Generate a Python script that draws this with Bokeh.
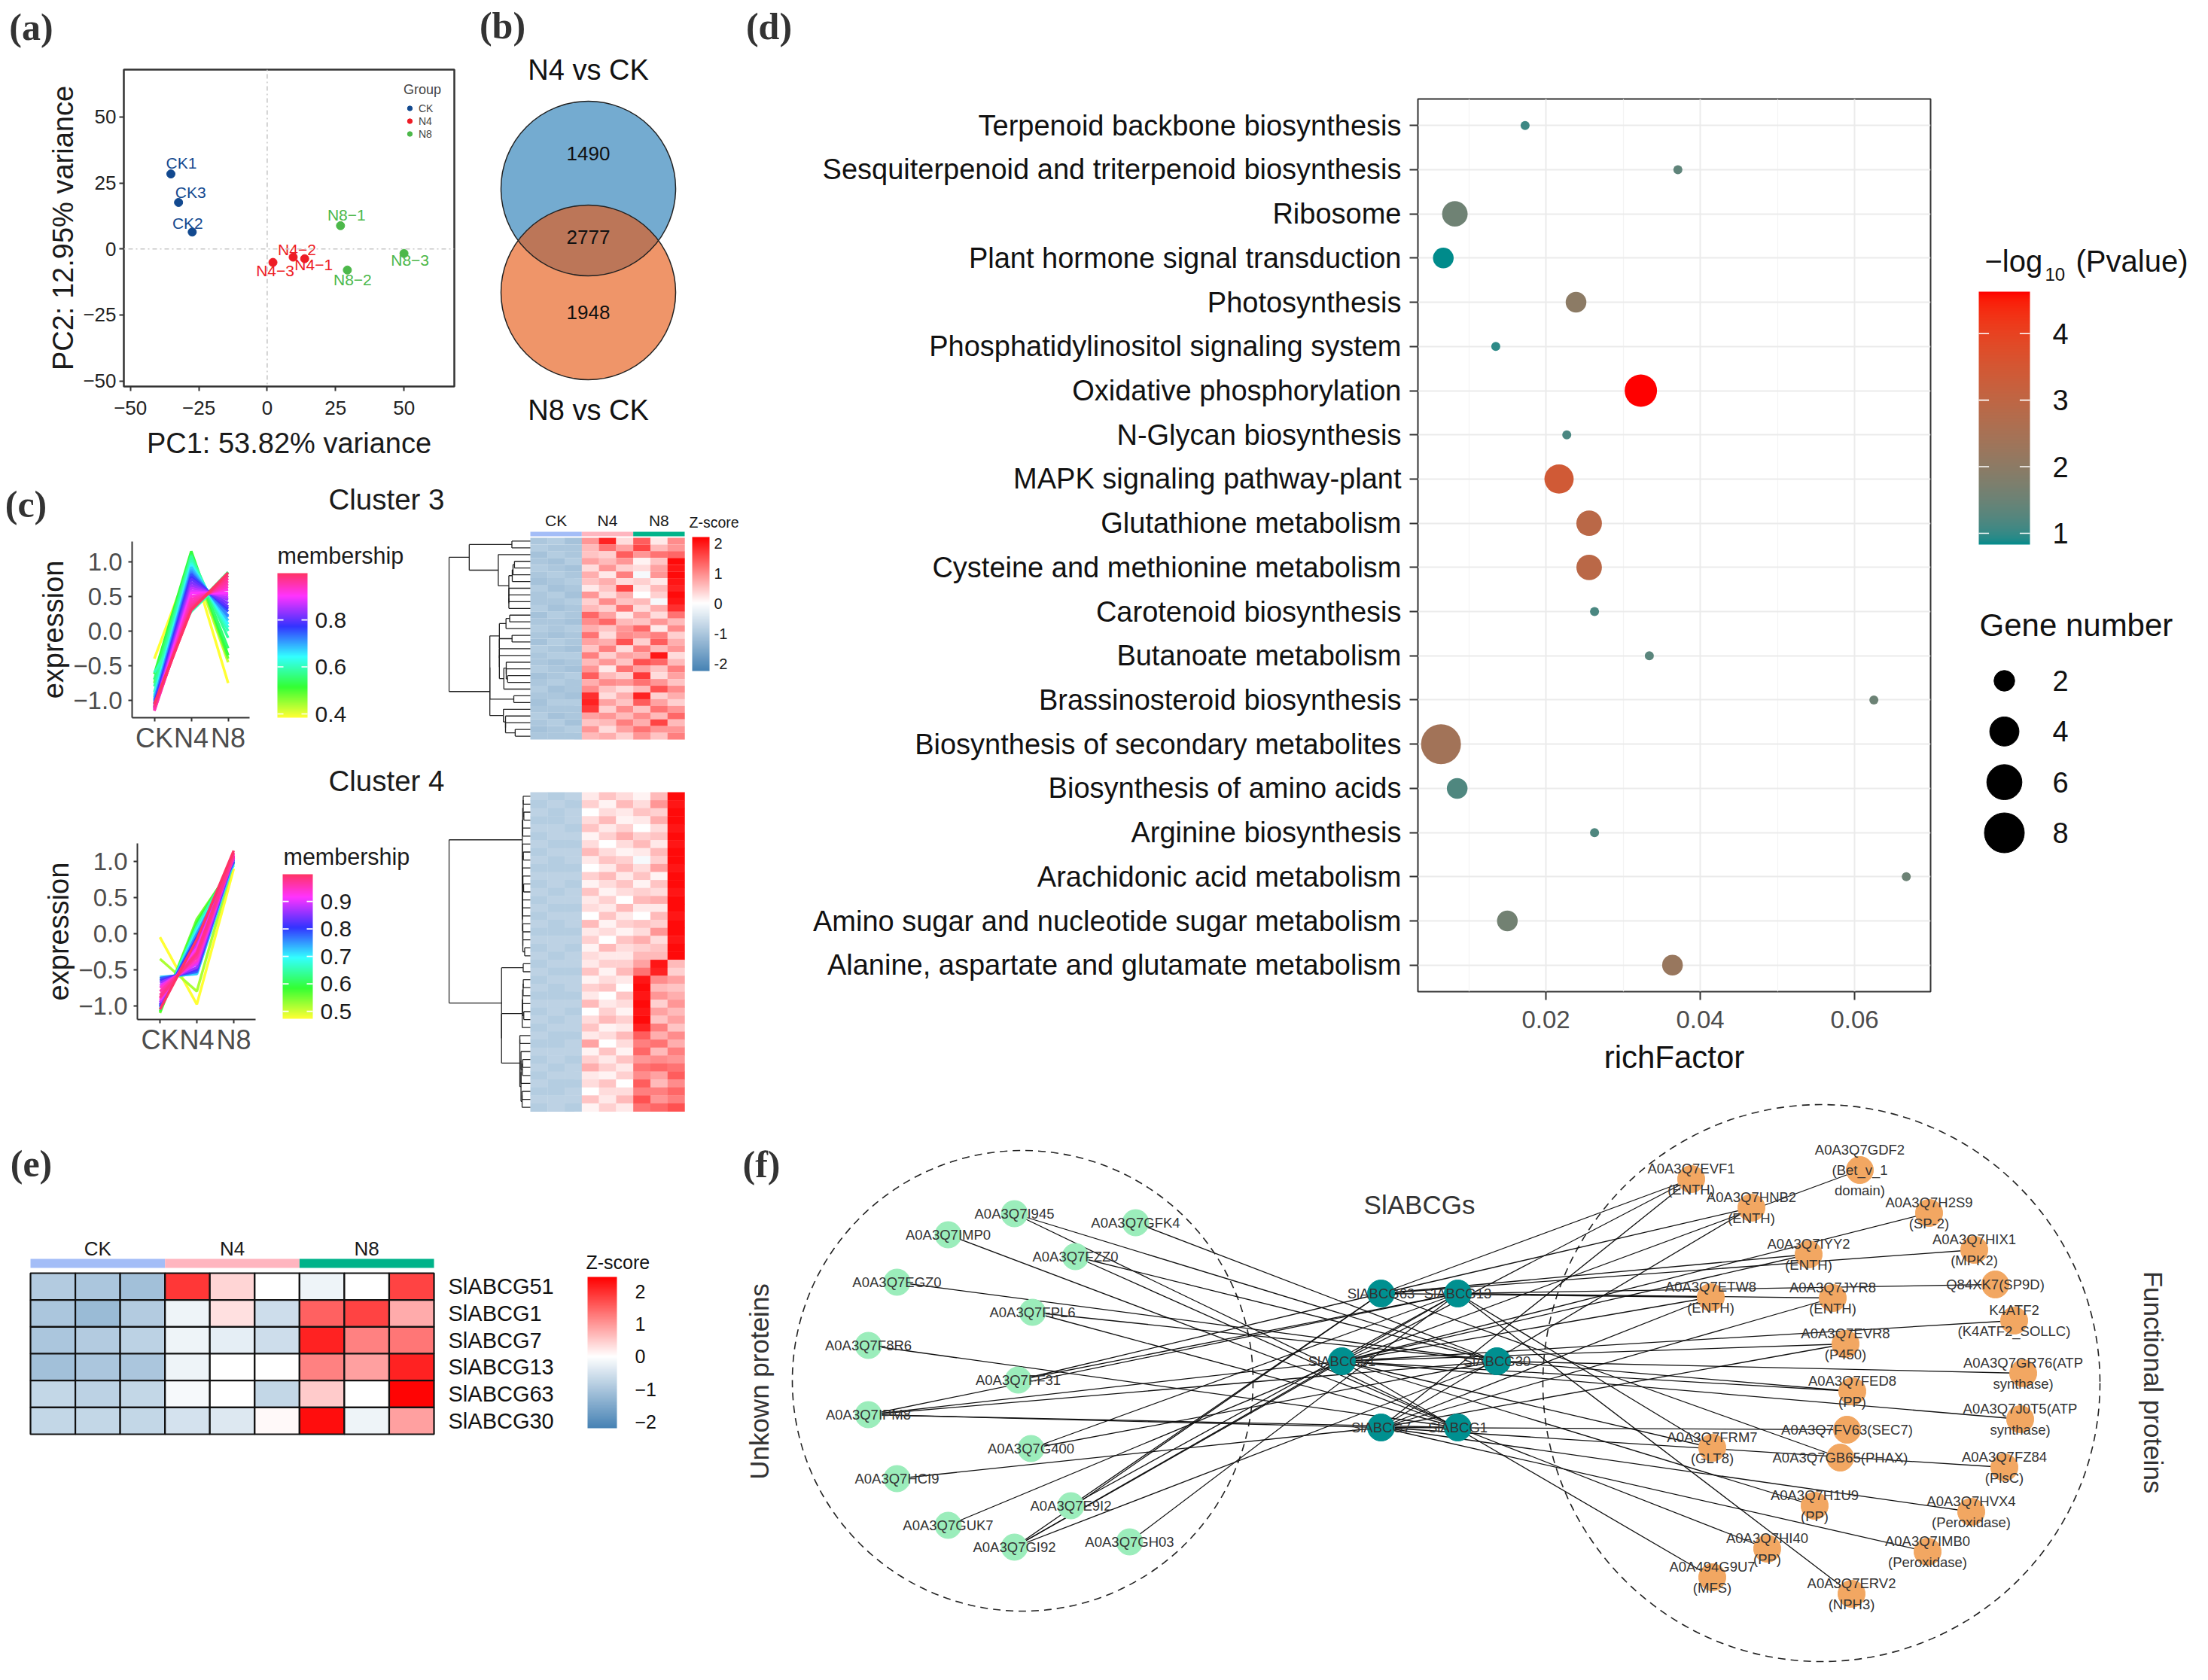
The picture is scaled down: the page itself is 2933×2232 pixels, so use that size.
import math, colorsys
import numpy as np
from bokeh.plotting import figure
from bokeh.models import (Range1d, LinearAxis, FixedTicker, Label, LinearColorMapper,
                          ColumnDataSource, Grid, Span)
from bokeh.layouts import row, column
from bokeh.core.properties import value
from bokeh.transform import linear_cmap
from bokeh.embed import file_html
from bokeh.resources import INLINE

FONT = "Liberation Sans"
SERIF = "Liberation Serif"
INK = "#1a1a1a"
GREY30 = "#4d4d4d"

# ===================== DATA =====================
# (a) PCA
pca_samples = ["CK1", "CK2", "CK3", "N4−1", "N4−2", "N4−3", "N8−1", "N8−2", "N8−3"]
pca_groups = ["CK", "CK", "CK", "N4", "N4", "N4", "N8", "N8", "N8"]
pca_pc1 = [-35.2, -27.4, -32.4, 13.7, 9.5, 2.1, 26.8, 29.3, 50.0]
pca_pc2 = [28.4, 6.4, 17.6, -3.7, -3.1, -5.1, 8.8, -8.0, -1.7]
pca_var = [53.82, 12.95]
pca_ticks = [-50, -25, 0, 25, 50]

# (b) Venn
venn_names = ["N4 vs CK", "N8 vs CK"]
venn_only = [1490, 1948]
venn_both = 2777

# (c) Mfuzz cluster profiles (membership, CK, N4, N8)
c3_member = [0.384, 0.42, 0.48, 0.52, 0.55, 0.56, 0.58, 0.60, 0.60, 0.62, 0.65, 0.68, 0.70, 0.72, 0.75,
             0.78, 0.80, 0.82, 0.84, 0.86, 0.88, 0.90, 0.92, 0.94, 0.95, 0.96, 0.97, 0.98, 0.999]
c3_ck = [-0.40, -0.95, -0.75, -0.62, -0.70, -0.70, -0.80, -0.60, -0.88, -0.92, -0.95, -1.00, -0.98, -1.02, -1.05,
         -1.05, -1.08, -1.10, -1.10, -1.12, -1.12, -1.13, -1.14, -1.15, -1.15, -1.12, -1.10, -1.08, -1.05]
c3_n4 = [1.02, 1.05, 1.12, 1.15, 1.10, 0.30, 1.08, 0.28, 1.02, 0.98, 0.95, 0.92, 0.88, 0.85, 0.82,
         0.78, 0.75, 0.70, 0.66, 0.62, 0.58, 0.55, 0.50, 0.46, 0.42, 0.38, 0.35, 0.32, 0.30]
c3_n8 = [-0.75, -0.45, -0.40, -0.35, -0.25, 0.85, -0.10, 0.80, 0.00, 0.05, 0.10, 0.15, 0.20, 0.22, 0.28,
         0.32, 0.35, 0.40, 0.45, 0.48, 0.52, 0.55, 0.60, 0.64, 0.68, 0.72, 0.76, 0.80, 0.84]

c4_member = [0.473, 0.52, 0.55, 0.58, 0.62, 0.65, 0.68, 0.70, 0.72, 0.75, 0.78, 0.80, 0.82, 0.84, 0.86,
             0.88, 0.90, 0.92, 0.94, 0.95, 0.96, 0.97, 0.98, 0.999]
c4_ck = [-0.05, -0.35, -1.10, -1.08, -0.62, -1.05, -0.65, -1.05, -0.60, -1.02, -0.62, -1.00, -0.65, -0.98, -0.68,
         -0.95, -0.72, -0.92, -0.75, -0.90, -0.80, -0.85, -0.88, -1.05]
c4_n4 = [-0.98, -0.80, 0.20, 0.15, -0.55, 0.10, -0.52, 0.05, -0.56, 0.00, -0.53, -0.05, -0.50, -0.10, -0.47,
         -0.15, -0.42, -0.20, -0.38, -0.25, -0.33, -0.29, -0.27, -0.08]
c4_n8 = [0.90, 1.00, 0.95, 0.98, 1.05, 1.00, 1.02, 0.95, 1.00, 0.98, 1.08, 1.00, 1.05, 1.02, 1.06,
         1.04, 1.08, 1.05, 1.10, 1.06, 1.08, 1.07, 1.12, 1.15]

# (c) heatmap z-scores (rows top -> bottom; CK1-3, N4 1-3, N8 1-3)
c3_heat = [
    [-1.0, -0.9, -1.1, 0.9, 1.9, 0.3, 1.4, 0.2, 1.0],
    [-0.9, -1.0, -1.0, 0.6, 1.2, 0.8, 1.6, 0.6, 0.9],
    [-1.1, -0.9, -1.0, 0.5, 0.4, 1.4, 0.9, 1.2, 1.3],
    [-1.0, -1.1, -0.9, 0.8, 0.6, 0.9, 0.1, 0.5, 2.1],
    [-0.9, -1.0, -1.1, 0.3, 0.9, 0.4, 0.3, 0.8, 2.0],
    [-1.0, -0.9, -1.0, 0.7, 0.2, 1.1, -0.1, 0.9, 2.1],
    [-1.1, -1.0, -0.9, 0.5, 0.7, 0.3, 0.4, 0.2, 2.0],
    [-0.9, -1.1, -1.0, 0.2, 0.5, 1.6, 0.2, 0.6, 1.9],
    [-1.0, -0.9, -1.1, 0.9, 0.3, 0.7, 0.0, 0.4, 2.1],
    [-1.0, -1.0, -0.9, 0.4, 1.0, 0.5, 0.6, -0.1, 2.0],
    [-0.9, -1.1, -1.0, 0.6, 0.4, 1.2, 0.3, 0.7, 1.8],
    [-1.1, -0.9, -1.0, 1.3, 0.8, 0.2, 0.8, 0.3, 1.2],
    [-1.0, -1.0, -1.1, 1.0, 1.3, 0.6, 0.5, 0.9, 0.6],
    [-0.9, -1.0, -0.9, 0.7, 0.5, 0.9, 1.3, 0.2, 1.0],
    [-1.0, -1.1, -1.0, 1.2, 0.3, 1.0, 0.9, 1.1, 0.4],
    [-1.1, -0.9, -1.0, 0.8, 0.7, 1.5, 0.4, 1.4, 0.7],
    [-0.9, -1.0, -1.1, 0.5, 1.1, 0.3, 1.1, 0.6, 0.9],
    [-1.0, -0.9, -0.9, 1.1, 0.4, 0.8, 0.7, 2.0, 0.3],
    [-1.0, -1.1, -1.0, 0.6, 0.9, 0.5, 1.5, 1.3, 0.6],
    [-0.9, -1.0, -1.1, 0.9, 0.2, 1.2, 0.8, 0.5, 1.1],
    [-1.1, -1.0, -0.9, 1.4, 0.6, 0.4, 1.7, 0.3, 0.8],
    [-1.0, -0.9, -1.0, 0.7, 1.0, 0.9, 1.2, 0.9, 0.5],
    [-0.9, -1.1, -1.0, 1.0, 0.5, 0.3, 0.6, 1.5, 1.0],
    [-1.0, -1.0, -1.1, 1.8, 0.3, 0.7, 1.9, 0.4, 0.7],
    [-1.1, -0.9, -0.9, 1.9, 0.8, 0.5, 1.4, 0.8, 0.4],
    [-1.0, -1.0, -1.0, 1.7, 0.4, 1.0, 0.5, 1.2, 0.9],
    [-0.9, -1.1, -1.0, 0.8, 0.9, 0.6, 1.0, 0.6, 1.3],
    [-1.0, -0.9, -1.1, 0.5, 0.6, 1.1, 0.7, 1.6, 0.6],
    [-1.1, -1.0, -0.9, 0.9, 0.3, 0.8, 1.2, 0.9, 0.9],
    [-1.0, -1.0, -1.0, 0.6, 0.7, 0.4, 0.9, 0.5, 1.1],
]
c4_heat = [
    [-0.8, -0.9, -0.8, 0.2, 0.5, 0.3, 0.1, 0.6, 2.1],
    [-0.9, -0.8, -0.9, 0.4, 0.1, 0.6, 0.3, 0.9, 2.0],
    [-0.8, -0.9, -0.8, 0.0, 0.3, 0.2, 0.5, 0.4, 2.1],
    [-0.9, -0.9, -0.8, 0.3, 0.6, 0.1, 0.2, 0.7, 2.1],
    [-0.8, -0.8, -0.9, 0.5, 0.2, 0.4, 0.0, 0.3, 2.0],
    [-0.9, -0.8, -0.8, 0.1, 0.4, 0.7, 0.4, 0.5, 2.1],
    [-0.8, -0.9, -0.9, 0.3, 0.0, 0.3, 0.6, 0.2, 2.0],
    [-0.9, -0.8, -0.8, 0.6, 0.3, 0.1, 0.2, 0.6, 2.1],
    [-0.8, -0.9, -0.8, 0.2, 0.5, 0.4, -0.1, 0.4, 2.1],
    [-0.9, -0.9, -0.9, 0.0, 0.2, 0.6, 0.3, 0.8, 2.0],
    [-0.8, -0.8, -0.8, 0.4, 0.6, 0.2, 0.5, 0.1, 2.1],
    [-0.9, -0.8, -0.9, 0.1, 0.3, 0.5, 0.1, 0.5, 2.1],
    [-0.8, -0.9, -0.8, 0.5, 0.1, 0.3, 0.4, 0.3, 2.0],
    [-0.9, -0.8, -0.8, 0.2, 0.4, 0.0, 0.6, 0.7, 2.1],
    [-0.8, -0.9, -0.9, 0.3, 0.2, 0.6, 0.2, 0.2, 2.1],
    [-0.9, -0.8, -0.8, 0.0, 0.5, 0.2, 0.0, 0.6, 2.0],
    [-0.8, -0.9, -0.8, 0.6, 0.1, 0.4, 0.5, 0.4, 2.1],
    [-0.9, -0.9, -0.9, 0.2, 0.3, 0.1, 0.3, 0.9, 2.1],
    [-0.8, -0.8, -0.8, 0.4, 0.0, 0.5, 0.7, 0.3, 2.0],
    [-0.9, -0.8, -0.9, 0.1, 0.6, 0.3, 0.4, 0.5, 2.1],
    [-0.8, -0.9, -0.8, 0.3, 0.2, 0.2, 0.6, 0.6, 2.1],
    [-0.9, -0.8, -0.8, 0.2, 0.4, 0.4, 0.8, 2.0, 0.6],
    [-0.8, -0.9, -0.9, 0.5, 0.1, 0.6, 1.2, 1.9, 0.4],
    [-0.9, -0.8, -0.8, 0.1, 0.3, 0.2, 2.0, 1.0, 0.8],
    [-0.8, -0.9, -0.8, 0.4, 0.5, 0.0, 2.1, 0.6, 0.5],
    [-0.9, -0.9, -0.9, 0.2, 0.0, 0.5, 2.0, 0.9, 0.7],
    [-0.8, -0.8, -0.8, 0.6, 0.2, 0.3, 2.1, 0.4, 0.9],
    [-0.9, -0.8, -0.9, 0.0, 0.4, 0.1, 2.0, 0.8, 0.6],
    [-0.8, -0.9, -0.8, 0.3, 0.6, 0.4, 2.1, 0.5, 0.8],
    [-0.9, -0.8, -0.8, 0.5, 0.1, 0.2, 1.9, 1.1, 0.5],
    [-0.8, -0.9, -0.9, 0.2, 0.3, 0.6, 1.4, 0.7, 1.0],
    [-0.9, -0.9, -0.8, 0.8, 0.0, 0.3, 1.1, 1.2, 0.7],
    [-0.8, -0.8, -0.8, 0.1, 0.5, 0.1, 1.3, 0.6, 1.1],
    [-0.9, -0.8, -0.9, 0.4, 0.2, 0.5, 0.9, 1.0, 0.9],
    [-0.8, -0.9, -0.8, 0.7, 0.4, 0.2, 1.2, 1.3, 1.2],
    [-0.9, -0.8, -0.8, 0.2, 0.1, 0.4, 1.0, 0.8, 1.4],
    [-0.8, -0.9, -0.9, 0.3, 0.5, 0.0, 1.4, 0.6, 1.0],
    [-0.9, -0.9, -0.8, 0.0, 0.3, 0.3, 1.1, 1.1, 1.3],
    [-0.8, -0.8, -0.8, 0.5, 0.2, 0.6, 1.5, 0.9, 1.1],
    [-0.9, -0.8, -0.9, 0.1, 0.4, 0.2, 1.2, 1.3, 1.5],
]
heat_groups = ["CK", "N4", "N8"]
c_zlim = (-2.25, 2.2)
z_ticks = [-2, -1, 0, 1, 2]

# (d) KEGG enrichment
kegg_terms = ["Terpenoid backbone biosynthesis", "Sesquiterpenoid and triterpenoid biosynthesis", "Ribosome",
              "Plant hormone signal transduction", "Photosynthesis", "Phosphatidylinositol signaling system",
              "Oxidative phosphorylation", "N-Glycan biosynthesis", "MAPK signaling pathway-plant",
              "Glutathione metabolism", "Cysteine and methionine metabolism", "Carotenoid biosynthesis",
              "Butanoate metabolism", "Brassinosteroid biosynthesis", "Biosynthesis of secondary metabolites",
              "Biosynthesis of amino acids", "Arginine biosynthesis", "Arachidonic acid metabolism",
              "Amino sugar and nucleotide sugar metabolism", "Alanine, aspartate and glutamate metabolism"]
kegg_rich = [0.0173, 0.0371, 0.0082, 0.0067, 0.0239, 0.0135, 0.0323, 0.0227, 0.0217, 0.0256,
             0.0256, 0.0263, 0.0334, 0.0625, 0.0064, 0.0085, 0.0263, 0.0667, 0.0150, 0.0364]
kegg_logp = [1.05, 1.35, 1.55, 0.83, 2.0, 0.95, 4.63, 1.15, 3.4, 2.9,
             2.9, 1.15, 1.3, 1.5, 2.4, 1.2, 1.2, 1.5, 1.6, 2.2]
kegg_count = [1, 1, 3, 2, 2, 1, 5, 1, 4, 3, 3, 1, 1, 1, 8, 2, 1, 1, 2, 2]
size_breaks = [2, 4, 6, 8]
logp_ticks = [1, 2, 3, 4]
rich_ticks = [0.02, 0.04, 0.06]

# (e) SlABCG heatmap
e_genes = ["SlABCG51", "SlABCG1", "SlABCG7", "SlABCG13", "SlABCG63", "SlABCG30"]
e_z = [
    [-0.9, -1.0, -1.1, 1.9, 0.4, 0.0, -0.2, 0.0, 1.8],
    [-1.0, -1.2, -0.9, -0.2, 0.3, -0.6, 1.5, 1.8, 0.8],
    [-1.0, -0.9, -0.8, -0.2, -0.3, -0.6, 2.1, 1.2, 1.3],
    [-1.1, -1.0, -1.0, -0.2, 0.0, 0.0, 1.2, 0.9, 2.1],
    [-0.7, -0.8, -0.7, -0.1, 0.0, -0.7, 0.5, 0.0, 2.4],
    [-0.7, -0.7, -0.7, -0.5, -0.4, 0.05, 2.3, -0.2, 0.9],
]
e_zlim = (-2.2, 2.44)

# (f) network: hubs, unknown proteins, functional proteins (layout coordinates)
hub_names = ["SlABCG63", "SlABCG13", "SlABCG51", "SlABCG30", "SlABCG7", "SlABCG1"]
hub_u = [-51, 51, -103, 103, -51, 51]
hub_v = [89, 89, -1, -1, -89, -89]
unk_names = ["A0A3Q7I945", "A0A3Q7GFK4", "A0A3Q7IMP0", "A0A3Q7FZZ0", "A0A3Q7EGZ0", "A0A3Q7FPL6",
             "A0A3Q7F8R6", "A0A3Q7FF31", "A0A3Q7IPM8", "A0A3Q7G400", "A0A3Q7HCI9", "A0A3Q7E9I2",
             "A0A3Q7GUK7", "A0A3Q7GI92", "A0A3Q7GH03"]
unk_u = [-538, -377, -626, -457, -694, -514, -732, -533, -732, -516, -694, -463, -626, -538, -385]
unk_v = [195, 183, 167, 138, 104, 64, 20, -26, -72, -117, -157, -193, -219, -248, -241]
unk_links = [["SlABCG30", "SlABCG1"], ["SlABCG30"], ["SlABCG1"], ["SlABCG30", "SlABCG1"], ["SlABCG30"],
             ["SlABCG1", "SlABCG30"], ["SlABCG1"], ["SlABCG13", "SlABCG63"],
             ["SlABCG13", "SlABCG51", "SlABCG30", "SlABCG7", "SlABCG1"], ["SlABCG13", "SlABCG30"],
             ["SlABCG7"], ["SlABCG63", "SlABCG13"], ["SlABCG51"],
             ["SlABCG63", "SlABCG13", "SlABCG30", "SlABCG51"], ["SlABCG13"]]
fun_names = ["A0A3Q7EVF1\n(ENTH)", "A0A3Q7GDF2\n(Bet_v_1\ndomain)", "A0A3Q7HNB2\n(ENTH)", "A0A3Q7H2S9\n(SP-2)",
             "A0A3Q7IYY2\n(ENTH)", "A0A3Q7HIX1\n(MPK2)", "Q84XK7(SP9D)", "A0A3Q7ETW8\n(ENTH)",
             "A0A3Q7JYR8\n(ENTH)", "K4ATF2\n(K4ATF2_SOLLC)", "A0A3Q7EVR8\n(P450)", "A0A3Q7GR76(ATP\nsynthase)",
             "A0A3Q7FED8\n(PP)", "A0A3Q7J0T5(ATP\nsynthase)", "A0A3Q7FV63(SEC7)", "A0A3Q7FRM7\n(GLT8)",
             "A0A3Q7GB65(PHAX)", "A0A3Q7FZ84\n(PlsC)", "A0A3Q7H1U9\n(PP)", "A0A3Q7HVX4\n(Peroxidase)",
             "A0A3Q7HI40\n(PP)", "A0A3Q7IMB0\n(Peroxidase)", "A0A494G9U7\n(MFS)", "A0A3Q7ERV2\n(NPH3)"]
fun_u = [361, 585, 441, 677, 517, 737, 765, 387, 549, 790, 566, 802, 575, 798, 568, 389, 559, 777, 525, 733,
         462, 675, 389, 574]
fun_v = [241, 253, 203, 196, 141, 147, 101, 84, 83, 53, 22, -17, -41, -78, -92, -116, -129, -142, -193, -201,
         -250, -254, -288, -310]
fun_links = [["SlABCG51", "SlABCG7", "SlABCG63"], ["SlABCG51"], ["SlABCG63", "SlABCG7"], ["SlABCG51"],
             ["SlABCG63", "SlABCG51"], ["SlABCG63"], ["SlABCG13"], ["SlABCG63", "SlABCG51", "SlABCG7"],
             ["SlABCG13", "SlABCG7"], ["SlABCG51"], ["SlABCG51", "SlABCG7"], ["SlABCG30"],
             ["SlABCG51", "SlABCG30"], ["SlABCG51"], ["SlABCG7"], ["SlABCG13", "SlABCG51"], ["SlABCG63"],
             ["SlABCG7"], ["SlABCG51"], ["SlABCG7"], ["SlABCG1"], ["SlABCG7"], ["SlABCG51"], ["SlABCG13"]]


# ===================== HELPERS =====================
def hexrgb(h):
    return [int(h[i:i + 2], 16) for i in (1, 3, 5)]


def rgbhex(c):
    return "#%02x%02x%02x" % tuple(int(round(max(0, min(255, v)))) for v in c)


def mix(c1, c2, t):
    a, b = hexrgb(c1), hexrgb(c2)
    return rgbhex([a[i] + (b[i] - a[i]) * t for i in range(3)])


def mem_palette(n=256):
    out = []
    for i in range(n):
        t = i / (n - 1)
        r, g, b = colorsys.hsv_to_rgb(((60 + 285 * t) % 360) / 360.0, 0.8, 1.0)
        out.append(rgbhex([r * 255, g * 255, b * 255]))
    return out


def z_palette(lo, hi, n=256, neg="#4682b4", pos="#ff0000"):
    out = []
    for i in range(n):
        v = lo + (hi - lo) * i / (n - 1)
        out.append(mix("#ffffff", neg, v / lo) if v < 0 else mix("#ffffff", pos, v / hi))
    return out


_M = np.array([[0.4124, 0.3576, 0.1805], [0.2126, 0.7152, 0.0722], [0.0193, 0.1192, 0.9505]])
_WN = np.array([0.95047, 1.0, 1.08883])


def _lab(h):
    c = np.array(hexrgb(h)) / 255.0
    lin = np.where(c <= 0.04045, c / 12.92, ((c + 0.055) / 1.055) ** 2.4)
    xyz = _M @ lin / _WN
    f = np.where(xyz > 0.008856, np.cbrt(xyz), 7.787 * xyz + 16 / 116)
    return np.array([116 * f[1] - 16, 500 * (f[0] - f[1]), 200 * (f[1] - f[2])])


def _unlab(lab):
    fy = (lab[0] + 16) / 116
    f = np.array([fy + lab[1] / 500, fy, fy - lab[2] / 200])
    xyz = np.where(f ** 3 > 0.008856, f ** 3, (f - 16 / 116) / 7.787) * _WN
    lin = np.clip(np.linalg.inv(_M) @ xyz, 0, 1)
    c = np.where(lin <= 0.0031308, 12.92 * lin, 1.055 * lin ** (1 / 2.4) - 0.055)
    return rgbhex(c * 255)


def lab_palette(c1, c2, n=256):
    a, b = _lab(c1), _lab(c2)
    return [_unlab(a + (b - a) * i / (n - 1)) for i in range(n)]


def mkfig(rect, frame, xr, yr):
    X0, X1, Y0, Y1 = rect
    FX0, FX1, FY0, FY1 = frame
    p = figure(width=X1 - X0, height=Y1 - Y0, x_range=Range1d(*xr), y_range=Range1d(*yr),
               min_border_left=FX0 - X0, min_border_right=X1 - FX1,
               min_border_top=FY0 - Y0, min_border_bottom=Y1 - FY1,
               x_axis_location=None, y_axis_location=None, title=None,
               output_backend="svg", toolbar_location=None, tools="")
    p.outline_line_color = None
    p.grid.visible = False

    def fx(rx):
        return xr[0] + (rx - FX0) / (FX1 - FX0) * (xr[1] - xr[0])

    def fy(ry):
        return yr[0] + (FY1 - ry) / (FY1 - FY0) * (yr[1] - yr[0])
    return p, fx, fy


def whole(rect):
    """Figure whose frame fills its box; data coords are page pixels (x right, -y down)."""
    X0, X1, Y0, Y1 = rect
    p, _, _ = mkfig(rect, rect, (X0, X1), (-Y1, -Y0))
    return p


def axis(p, side, ticks, overrides=None, size=26, color=INK, standoff=4, tick_out=6, tick_color="#333333",
         line_color=None, label=None, label_size=38, label_standoff=6, label_color=INK):
    a = LinearAxis(ticker=FixedTicker(ticks=ticks, minor_ticks=[]))
    a.major_label_text_font = FONT
    a.major_label_text_font_size = f"{size}px"
    a.major_label_text_color = color
    a.major_label_standoff = standoff
    a.major_tick_out = tick_out
    a.major_tick_in = 0
    a.minor_tick_out = 0
    a.minor_tick_in = 0
    a.major_tick_line_color = tick_color
    a.major_tick_line_width = 2
    a.axis_line_color = line_color
    a.axis_line_width = 2
    if overrides:
        a.major_label_overrides = overrides
    if label:
        a.axis_label = label
        a.axis_label_text_font = FONT
        a.axis_label_text_font_size = f"{label_size}px"
        a.axis_label_text_font_style = "normal"
        a.axis_label_text_color = label_color
        a.axis_label_standoff = label_standoff
    p.add_layout(a, side)
    return a


def lab(p, x, y, text, size, color=INK, font=FONT, style="normal", align="left", baseline="middle", angle=0.0):
    p.add_layout(Label(x=x, y=y, text=text, text_font=font, text_font_size=f"{size}px", text_color=color,
                       text_font_style=style, text_align=align, text_baseline=baseline, angle=angle))


def tag(rect, x, y, t):
    p = whole(rect)
    lab(p, x, -y, t, 50, "#333333", SERIF, "bold", "center")
    return p


def dendro(rows):
    n = len(rows)
    cl = [[1, np.array(rows[i], float), n - 1 - i + 0.5, 0.0] for i in range(n)]
    segs = []
    while len(cl) > 1:
        best_d, best_k = None, 0
        for k in range(len(cl) - 1):
            a, b = cl[k], cl[k + 1]
            d = math.sqrt(2 * a[0] * b[0] / (a[0] + b[0])) * float(np.linalg.norm(a[1] - b[1]))
            if best_d is None or d < best_d:
                best_d, best_k = d, k
        a, b = cl[best_k], cl[best_k + 1]
        h = max(best_d, a[3], b[3])
        segs += [(a[3], a[2], h, a[2]), (b[3], b[2], h, b[2]), (h, a[2], h, b[2])]
        m = (a[1] * a[0] + b[1] * b[0]) / (a[0] + b[0])
        cl[best_k:best_k + 2] = [[a[0] + b[0], m, (a[2] + b[2]) / 2, h]]
    return segs, cl[0][3]


def cbar(p, x0, x1, ytop, ybot, lo, hi, pal, ticks, labels, lab_x, size, color=INK, white=True):
    """Colour-bar legend drawn in a page-pixel figure (see whole())."""
    p.image(image=[np.linspace(lo, hi, 256).reshape(256, 1)], x=x0, y=-ybot, dw=x1 - x0, dh=ybot - ytop,
            color_mapper=LinearColorMapper(palette=pal, low=lo, high=hi))
    ty = [-(ybot - (t - lo) / (hi - lo) * (ybot - ytop)) for t in ticks]
    if white:
        w = (x1 - x0) * 0.2
        k = len(ty)
        p.segment(x0=[x0] * k + [x1 - w] * k, y0=ty * 2, x1=[x0 + w] * k + [x1] * k, y1=ty * 2,
                  line_color="white", line_width=1.6)
    p.text(x=[lab_x] * len(ty), y=ty, text=labels, text_font=value(FONT), text_font_size=value(f"{size}px"),
           text_color=color, text_align="left", text_baseline="middle")


def B(*children):
    return column(*children)


MEM_PAL = mem_palette()
ANN_COLORS = ["#a3bdf7", "#ffb5bf", "#00b38a"]

# ===================== (a) PCA =====================
tagA = tag((8, 640, 8, 90), 49, 43, "(a)")
pa, ax_, ay_ = mkfig((8, 640, 90, 620), (172, 611, 100, 538), (-52.4, 68.4), (-52.1, 67.9))
pa.outline_line_color = "#333333"
pa.outline_line_width = 2.5
pa.add_layout(Span(location=0, dimension="height", line_color="#c8c8c8", line_dash="dotdash", line_width=1.6))
pa.add_layout(Span(location=0, dimension="width", line_color="#c8c8c8", line_dash="dotdash", line_width=1.6))
gcol = {"CK": "#12498f", "N4": "#ee1c25", "N8": "#4cb84a"}
src_a = ColumnDataSource(dict(x=pca_pc1, y=pca_pc2, g=pca_groups, c=[gcol[g] for g in pca_groups]))
pa.scatter("x", "y", size=11, color="c", legend_group="g", source=src_a)
lab_dx = [14, -6, 16, 12, 5, 3, 8, 7, 8]
lab_dy = [-15.5, -12, -14, 8, -11, 11, -15, 13, 9]
pa.text(x=[pca_pc1[i] + lab_dx[i] / 3.634 for i in range(9)], y=[pca_pc2[i] - lab_dy[i] / 3.65 for i in range(9)],
        text=pca_samples, text_color=[gcol[g] for g in pca_groups], text_font=value(FONT),
        text_font_size=value("21px"), text_align="center", text_baseline="middle")
ov = {t: (str(t) if t >= 0 else "−" + str(-t)) for t in pca_ticks}
axis(pa, "below", pca_ticks, ov, size=26, color="#222222", standoff=13,
     label=f"PC1: {pca_var[0]}% variance", label_size=38, label_standoff=14)
axis(pa, "left", pca_ticks, ov, size=26, color="#222222", standoff=4,
     label=f"PC2: {pca_var[1]}% variance", label_size=38, label_standoff=2)
lg = pa.legend[0]
lg.location = "top_right"
lg.title = "Group"
lg.title_text_font = FONT
lg.title_text_font_size = "18px"
lg.title_text_font_style = "normal"
lg.label_text_font = FONT
lg.label_text_font_size = "14px"
lg.glyph_height = 17
lg.glyph_width = 16
lg.label_height = 17
lg.spacing = 0
lg.padding = 4
lg.margin = 17
lg.label_standoff = 4
lg.border_line_color = None
lg.background_fill_alpha = 0

# ===================== (b) Venn =====================
pb, bx, by = mkfig((640, 992, 8, 620), (640, 992, 8, 620), (-149, 203), (-293, 319))
venn_r, venn_c = 116, 69
pb.circle(x=[0], y=[venn_c], radius=venn_r, fill_color="#74abd0", line_color=None)
pb.circle(x=[0], y=[-venn_c], radius=venn_r, fill_color="#e65711", fill_alpha=0.63, line_color=None)
pb.circle(x=[0, 0], y=[venn_c, -venn_c], radius=venn_r, fill_color=None, line_color="#222222", line_width=1.5)
pb.text(x=[0, 0, 0], y=[venn_c + 0.4 * venn_r, 0.035 * venn_r, -venn_c - 0.23 * venn_r],
        text=[str(venn_only[0]), str(venn_both), str(venn_only[1])], text_font=value(FONT),
        text_font_size=value("26px"), text_color="#111111", text_align="center", text_baseline="middle")
pb.text(x=[0, 0], y=[venn_c + venn_r + 42, -venn_c - venn_r - 40], text=venn_names, text_font=value(FONT),
        text_font_size=value("38px"), text_color="#111111", text_align="center", text_baseline="middle")
lab(pb, bx(675), by(41), "(b)", 50, "#333333", SERIF, "bold", "center")


# ===================== (c) clusters =====================
def line_panel(rect, frame, xr, yr, m, ck, n4, n8):
    p, fx, fy = mkfig(rect, frame, xr, yr)
    lo, hi = min(m), max(m)
    order = sorted(range(len(m)), key=lambda i: m[i])
    src = ColumnDataSource(dict(xs=[[0, 1, 2] for _ in order], ys=[[ck[i], n4[i], n8[i]] for i in order],
                                m=[m[i] for i in order]))
    p.multi_line("xs", "ys", line_color=linear_cmap("m", MEM_PAL, lo, hi), line_width=3.5, source=src)
    axis(p, "left", [-1, -0.5, 0, 0.5, 1], {-1: "−1.0", -0.5: "−0.5", 0: "0.0", 0.5: "0.5", 1: "1.0"},
         size=33, color=GREY30, standoff=8, tick_out=5, tick_color="#333333", line_color="#333333",
         label="expression", label_size=38, label_standoff=2)
    axis(p, "below", [0, 1, 2], {0: "CK", 1: "N4", 2: "N8"}, size=36, color=GREY30, standoff=1, tick_out=5,
         tick_color="#333333", line_color="#333333")
    return p, lo, hi


def member_legend(rect, bar, lo, hi, ticks, title_xy, cluster_xy, cluster_title):
    p = whole(rect)
    cbar(p, bar[0], bar[1], bar[2], bar[3], lo, hi, MEM_PAL, ticks, [f"{t:.1f}" for t in ticks],
         bar[1] + 10, 30)
    lab(p, title_xy[0], -title_xy[1], "membership", 30.5, INK)
    lab(p, cluster_xy[0], -cluster_xy[1], cluster_title, 38.5, INK, align="center")
    return p


ZC_PAL = z_palette(*c_zlim)


def heat_panel(rect, rows, box, dendro_x, ann=False):
    X0, X1, Y0, Y1 = rect
    hx0, hx1, hy0, hy1 = box
    n = len(rows)
    cw = (hx1 - hx0) / 9.0
    rh = (hy1 - hy0) / float(n)
    p, fx, fy = mkfig(rect, rect, ((X0 - hx0) / cw, (X1 - hx0) / cw), (-(Y1 - hy1) / rh, n + (hy0 - Y0) / rh))
    xs, ys, vs = [], [], []
    for i, r in enumerate(rows):
        for j, v in enumerate(r):
            xs.append(j + 0.5)
            ys.append(n - 1 - i + 0.5)
            vs.append(v)
    p.rect("x", "y", width=1, height=1, source=ColumnDataSource(dict(x=xs, y=ys, v=vs)),
           fill_color=linear_cmap("v", ZC_PAL, c_zlim[0], c_zlim[1]), line_color=None, dilate=True)
    segs, root = dendro(rows)
    W = (hx0 - dendro_x) / cw
    p.segment(x0=[-s[0] / root * W for s in segs], y0=[s[1] for s in segs],
              x1=[-s[2] / root * W for s in segs], y1=[s[3] for s in segs], line_color="#222222", line_width=1.3)
    if ann:
        p.rect(x=[1.5, 4.5, 7.5], y=[fy(717)] * 3, width=3, height=6 / rh, fill_color=ANN_COLORS, line_color=None)
        p.text(x=[1.5, 4.5, 7.5], y=[fy(699)] * 3, text=heat_groups, text_font=value(FONT),
               text_font_size=value("21px"), text_color=INK, text_align="center", text_baseline="middle")
    return p


tagC = tag((8, 350, 620, 716), 42, 677, "(c)")
pcl3, m3lo, m3hi = line_panel((8, 350, 716, 1020), (183, 339, 727, 961), (-0.602, 2.58), (-1.25, 1.29),
                              c3_member, c3_ck, c3_n4, c3_n8)
pcm3 = member_legend((350, 603, 620, 1020), (376, 416, 769, 961), m3lo, m3hi, [0.4, 0.6, 0.8],
                     (376, 745), (521, 671), "Cluster 3")
pch3 = heat_panel((603, 920, 620, 1020), c3_heat, (712, 917, 722, 990), 604, ann=True)
pcz = whole((920, 992, 620, 1020))
cbar(pcz, 927, 950, 721, 899, c_zlim[0], c_zlim[1], ZC_PAL, z_ticks, [str(t) for t in z_ticks], 956, 20,
     white=False)
lab(pcz, 923, -701, "Z-score", 19.5, INK)

pcl4, m4lo, m4hi = line_panel((8, 350, 1020, 1500), (190, 347, 1128, 1362), (-0.612, 2.592), (-1.19, 1.25),
                              c4_member, c4_ck, c4_n4, c4_n8)
pcm4 = member_legend((350, 603, 1020, 1500), (383, 423, 1169, 1361), m4lo, m4hi, [0.5, 0.6, 0.7, 0.8, 0.9],
                     (384, 1145), (521, 1045), "Cluster 4")
pch4 = heat_panel((603, 992, 1020, 1500), c4_heat, (712, 917, 1060, 1484), 604, ann=False)

# ===================== (d) KEGG dot plot =====================
tagD = tag((992, 2600, 8, 100), 1029, 42, "(d)")
pdd, dx_, dy_ = mkfig((992, 2600, 100, 1470), (1891, 2572, 139, 1325), (0.00341, 0.06985), (0.4, 20.6))
pdd.outline_line_color = "#333333"
pdd.outline_line_width = 2
pdd.add_layout(Grid(dimension=0, ticker=FixedTicker(ticks=rich_ticks, minor_ticks=[0.01, 0.03, 0.05]),
                    grid_line_color="#ebebeb", grid_line_width=2,
                    minor_grid_line_color="#f3f3f3", minor_grid_line_width=1.2))
nterm = len(kegg_terms)
pdd.add_layout(Grid(dimension=1, ticker=FixedTicker(ticks=list(range(1, nterm + 1))),
                    grid_line_color="#ebebeb", grid_line_width=2))
P_LO, P_HI = min(kegg_logp), max(kegg_logp)
D_PAL = lab_palette("#008b8b", "#ff0000")


def gene_px(nv):
    return 12 + 15.5 * math.sqrt(nv - 1)


src_d = ColumnDataSource(dict(x=kegg_rich, y=[nterm - i for i in range(nterm)], p=kegg_logp,
                              s=[gene_px(c) for c in kegg_count]))
pdd.scatter("x", "y", size="s", fill_color=linear_cmap("p", D_PAL, P_LO, P_HI), line_color=None, source=src_d)
axis(pdd, "left", list(range(1, nterm + 1)), {nterm - i: t for i, t in enumerate(kegg_terms)}, size=38,
     color="#111111", standoff=11, tick_out=11)
axis(pdd, "below", rich_ticks, None, size=33, color=GREY30, standoff=14, tick_out=11,
     label="richFactor", label_size=42, label_standoff=12, label_color="#111111")

pleg = whole((2600, 2925, 8, 1470))
cbar(pleg, 2636, 2704, 395, 731, P_LO, P_HI, D_PAL, logp_ticks, [str(t) for t in logp_ticks], 2734, 38,
     "#111111", white=True)
lab(pleg, 2644, -354, "−log", 40, "#111111")
lab(pleg, 2724, -372, "10", 24, "#111111")
lab(pleg, 2765, -354, "(Pvalue)", 40, "#111111")
lab(pleg, 2637, -838, "Gene number", 42, "#111111")
leg_y = [-(912 + 67.33 * k) for k in range(len(size_breaks))]
pleg.scatter(x=[2670] * len(size_breaks), y=leg_y, size=[gene_px(v) for v in size_breaks], color="black")
pleg.text(x=[2734] * len(size_breaks), y=leg_y, text=[str(v) for v in size_breaks], text_font=value(FONT),
          text_font_size=value("38px"), text_color="#111111", text_baseline="middle")

# ===================== (e) SlABCG heatmap =====================
pe, ex_, ey_ = mkfig((8, 760, 1500, 2224), (8, 587, 1500, 1916), (-0.672, 9.05), (-0.084, 11.578))
ne = len(e_genes)
E_PAL = z_palette(*e_zlim)
xs, ys, vs = [], [], []
for i, r in enumerate(e_z):
    for j, v in enumerate(r):
        xs.append(j + 0.5)
        ys.append(ne - 1 - i + 0.5)
        vs.append(v)
pe.rect("x", "y", width=1, height=1, source=ColumnDataSource(dict(x=xs, y=ys, v=vs)),
        fill_color=linear_cmap("v", E_PAL, e_zlim[0], e_zlim[1]), line_color="#111111", line_width=2.2)
pe.rect(x=[1.5, 4.5, 7.5], y=[ne + 0.365] * 3, width=3, height=0.34, fill_color=ANN_COLORS, line_color=None)
pe.text(x=[1.5, 4.5, 7.5], y=[ne + 0.9] * 3, text=heat_groups, text_font=value(FONT),
        text_font_size=value("26px"), text_color=INK, text_align="center", text_baseline="middle")
axis(pe, "right", [ne - 1 - i + 0.5 for i in range(ne)], {ne - 1 - i + 0.5: g for i, g in enumerate(e_genes)},
     size=29, color="#111111", standoff=16, tick_out=0, tick_color=None)
lab(pe, ex_(49), ey_(1553), "(e)", 50, "#333333", SERIF, "bold", "center")

pez = whole((760, 992, 1500, 2224))
cbar(pez, 788, 827, 1704, 1905, e_zlim[0], e_zlim[1], E_PAL, z_ticks,
     [("−" + str(-t)) if t < 0 else str(t) for t in z_ticks], 851, 25, "#111111", white=False)
lab(pez, 786, -1684, "Z-score", 25, "#111111")

# ===================== (f) network =====================
pf, fx_, fy_ = mkfig((992, 2925, 1470, 2224), (992, 2925, 1470, 2224), (-901, 1032), (-409, 345))
pf.circle(x=[-527], y=[-27], radius=306, fill_color=None, line_color="#222222", line_width=1.6, line_dash="10 7")
pf.circle(x=[534], y=[-30], radius=370, fill_color=None, line_color="#222222", line_width=1.6, line_dash="10 7")
hub_pos = {h: (hub_u[i], hub_v[i]) for i, h in enumerate(hub_names)}
e0x, e0y, e1x, e1y = [], [], [], []
for us, vs_, links in ((unk_u, unk_v, unk_links), (fun_u, fun_v, fun_links)):
    for i in range(len(us)):
        for h in links[i]:
            e0x.append(us[i]); e0y.append(vs_[i]); e1x.append(hub_pos[h][0]); e1y.append(hub_pos[h][1])
pf.segment(x0=e0x, y0=e0y, x1=e1x, y1=e1y, line_color="#111111", line_width=1.3)
pf.scatter(unk_u, unk_v, size=35, color="#9bedbb")
pf.scatter(fun_u, fun_v, size=36, color="#f2a762")
pf.scatter(hub_u, hub_v, size=36, color="#009090")
NODE_TXT = dict(text_font=value(FONT), text_font_size=value("18.5px"), text_color="#333333",
                text_align="center", text_baseline="middle", text_line_height=1.3)
pf.text(x=unk_u, y=unk_v, text=unk_names, **NODE_TXT)
pf.text(x=fun_u, y=fun_v, text=fun_names, **NODE_TXT)
pf.text(x=hub_u, y=hub_v, text=hub_names, **NODE_TXT)
lab(pf, 0, 207, "SlABCGs", 35, "#333333", align="center")
lab(pf, -877, -28, "Unkown proteins", 35, "#333333", align="center", angle=math.pi / 2)
lab(pf, 975, -29, "Functional proteins", 35, "#333333", align="center", angle=-math.pi / 2)
lab(pf, fx_(1019), fy_(1554), "(f)", 50, "#333333", SERIF, "bold", "center")

# ===================== LAYOUT =====================
left = column(
    row(B(column(B(tagA), B(pa))), B(pb)),
    row(B(column(B(tagC), B(pcl3))), B(pcm3), B(pch3), B(pcz)),
    row(B(pcl4), B(pcm4), B(pch4)),
    row(B(pe), B(pez)),
)
right = column(row(B(column(B(tagD), B(pdd))), B(pleg)), B(pf))
root = row(left, right)

with open("out.html", "w") as fh:
    fh.write(file_html(root, INLINE, title="ABCG figure"))
